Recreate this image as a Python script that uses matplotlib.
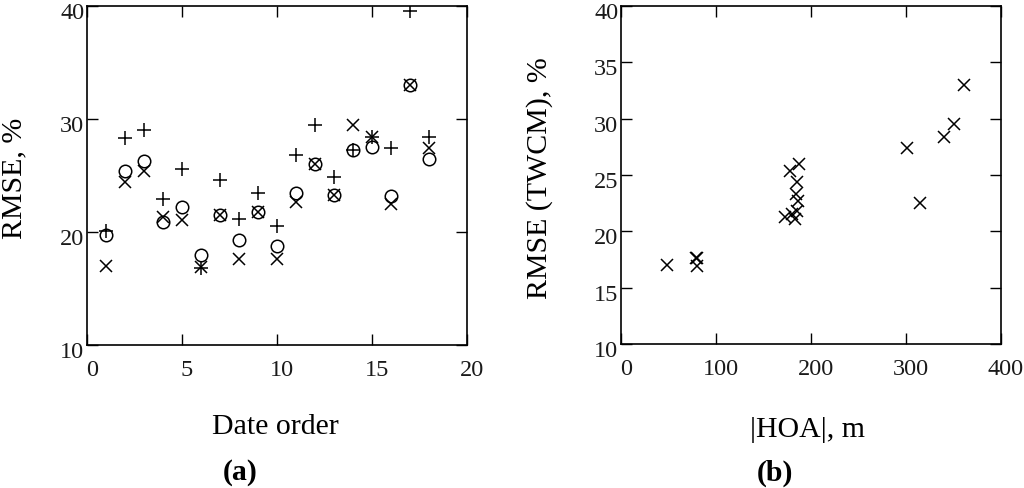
import matplotlib
matplotlib.use("Agg")
import matplotlib.pyplot as plt
import matplotlib.transforms as mtransforms

# RMSE per date for three models
dates = list(range(1, 19))
rmse_plus = [20.1, 28.3, 29.0, 22.9, 25.6, 16.8, 24.6, 21.2, 23.5,
             20.5, 26.8, 29.5, 24.9, 27.3, 28.4, 27.4, 39.6, 28.4]
rmse_circ = [19.7, 25.4, 26.3, 20.9, 22.2, 18.0, 21.5, 19.3, 21.8,
             18.8, 23.5, 26.0, 23.3, 27.3, 27.5, 23.2, 33.0, 26.5]
rmse_twcm = [17.0, 24.4, 25.4, 21.3, 21.1, 16.9, 21.5, 17.6, 21.8,
             17.6, 22.7, 26.0, 23.3, 29.5, 28.4, 22.5, 33.0, 27.4]
# |HOA| for each date
hoa = [48, 185, 178, 173, 183, 80, 180, 79, 185,
       80, 186, 187, 184, 351, 340, 315, 361, 301]

xticks_a = [0, 5, 10, 15, 20]
yticks_a = [10, 20, 30, 40]
xticks_b = [0, 100, 200, 300, 400]
yticks_b = [10, 15, 20, 25, 30, 35, 40]

FONT = "Liberation Serif"
plt.rcParams["font.family"] = [FONT, "DejaVu Serif"]

fig = plt.figure(figsize=(10.24, 4.89), dpi=100)
ax1 = fig.add_axes([0.085, 0.2924, 0.371, 0.693])
ax2 = fig.add_axes([0.6064, 0.2945, 0.371, 0.691])

mk = dict(linestyle="none", color="black", markerfacecolor="none",
          markeredgewidth=1.1)
ax1.plot(dates, rmse_plus, marker="+", markersize=10, **mk)
ax1.plot(dates, rmse_circ, marker="o", markersize=9, **mk)
ax1.plot(dates, rmse_twcm, marker="x", markersize=8.5, **mk)
ax2.plot(hoa, rmse_twcm, marker="x", markersize=9, **mk)

def style(ax, xt, yt):
    ax.set_xlim(xt[0], xt[-1])
    ax.set_ylim(yt[0], yt[-1])
    ax.set_xticks(xt)
    ax.set_yticks(yt)
    ax.tick_params(direction="in", length=8, width=1.0, top=True, right=True,
                   labelsize=17.5, colors="black", labelcolor="#1a1a1a")
    ax.tick_params(axis="x", pad=10)
    ax.tick_params(axis="y", pad=2)
    for s in ax.spines.values():
        s.set_linewidth(1.2)
    # Mathcad-style label placement: shifted slightly right / down
    for lab in ax.get_xticklabels():
        lab.set_transform(lab.get_transform() +
                          mtransforms.ScaledTranslation(5 / 100, 0, fig.dpi_scale_trans))
    for lab in ax.get_yticklabels():
        lab.set_transform(lab.get_transform() +
                          mtransforms.ScaledTranslation(0, -4 / 100, fig.dpi_scale_trans))

style(ax1, xticks_a, yticks_a)
style(ax2, xticks_b, yticks_b)

fig.text(0.2686, 0.1268, "Date order", fontsize=21.5, ha="center", va="center")
fig.text(0.789, 0.121, "|HOA|, m", fontsize=21.5, ha="center", va="center")
fig.text(0.0137, 0.636, "RMSE, %", fontsize=21.5, rotation=90,
         ha="center", va="center")
fig.text(0.527, 0.636, "RMSE (TWCM), %", fontsize=21.5, rotation=90,
         ha="center", va="center")
fig.text(0.2344, 0.033, "(a)", fontsize=21.5, fontweight="bold",
         ha="center", va="center")
fig.text(0.757, 0.033, "(b)", fontsize=21.5, fontweight="bold",
         ha="center", va="center")

fig.savefig("out.png", dpi=100)
